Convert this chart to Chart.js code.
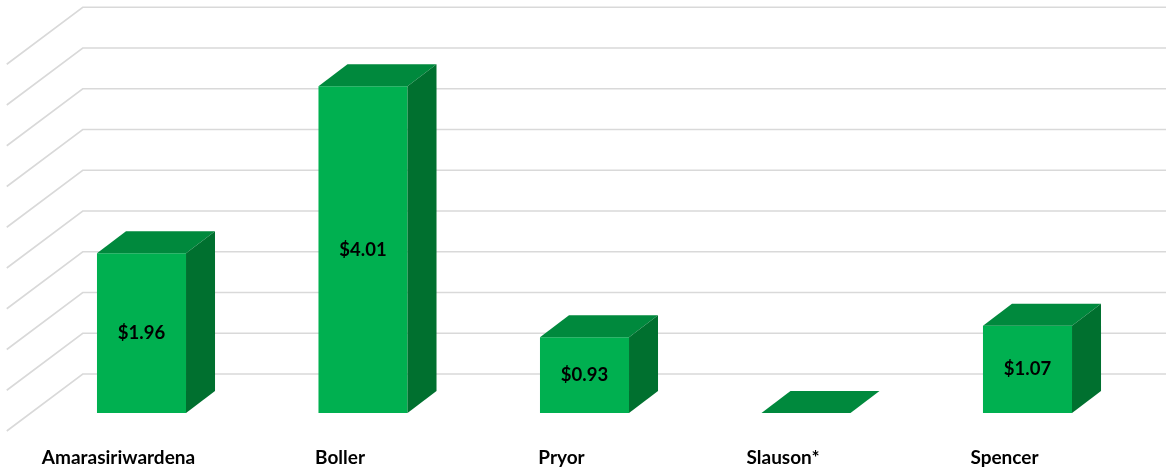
<!DOCTYPE html>
<html>
<head>
<meta charset="utf-8">
<script src="https://cdn.jsdelivr.net/npm/chart.js@4/dist/chart.umd.min.js"></script>
<style>
  html, body { margin: 0; padding: 0; background: #ffffff; }
  #wrap { width: 1166px; height: 468px; }
</style>
</head>
<body>
<div id="wrap"><canvas id="c" width="1166" height="468"></canvas></div>
<script>
// ---- data ----
const categories = ['Amarasiriwardena', 'Boller', 'Pryor', 'Slauson*', 'Spencer'];
const values = [1.96, 4.01, 0.93, 0, 1.07];
const valueLabels = ['$1.96', '$4.01', '$0.93', '', '$1.07'];
const axisMin = 0;
const axisMax = 5;
const gridStep = 0.5;
const gridTop = 4.5;

// ---- 3D look (styles only) ----
const FRONT = '#00B050';
const TOP = '#00893D';
const SIDE = '#00702F';
const GRID = '#D9D9D9';
const BAR_DX = 29, BAR_DY = 22;       // bar depth
const WALL_DX = 52, WALL_DY = 39;     // back wall offset from bar front
const SIDE_FRONT_DX = 24, SIDE_FRONT_DY = 18; // side wall extends in front of bars

const walls3d = {
  id: 'walls3d',
  beforeDatasetsDraw(chart) {
    const ctx = chart.ctx;
    const y = chart.scales.y;
    const area = chart.chartArea;
    let ticks = y.ticks.map(t => t.value);
    if (!ticks.length) { ticks = []; for (let v = axisMin; v <= axisMax + 1e-9; v += gridStep) ticks.push(v); }
    ctx.save();
    ctx.strokeStyle = GRID;
    ctx.lineWidth = 1.6;
    ticks.filter(v => v <= gridTop + 1e-9).forEach(v => {
      const yf = y.getPixelForValue(v);
      ctx.beginPath();
      ctx.moveTo(area.left - SIDE_FRONT_DX, yf + SIDE_FRONT_DY);
      ctx.lineTo(area.left + WALL_DX, yf - WALL_DY);
      ctx.lineTo(chart.width, yf - WALL_DY);
      ctx.stroke();
    });
    ctx.restore();
  },
  afterDatasetsDraw(chart) {
    const ctx = chart.ctx;
    const meta = chart.getDatasetMeta(0);
    ctx.save();
    meta.data.forEach((bar, i) => {
      const p = bar.getProps(['x', 'y', 'base', 'width'], true);
      const l = p.x - p.width / 2, r = p.x + p.width / 2;
      const top = Math.min(p.y, p.base), bot = Math.max(p.y, p.base);
      // top face
      ctx.fillStyle = TOP;
      ctx.beginPath();
      ctx.moveTo(l, top);
      ctx.lineTo(l + BAR_DX, top - BAR_DY);
      ctx.lineTo(r + BAR_DX, top - BAR_DY);
      ctx.lineTo(r, top);
      ctx.closePath();
      ctx.fill();
      // side face
      if (bot - top > 0.5) {
        ctx.fillStyle = SIDE;
        ctx.beginPath();
        ctx.moveTo(r, top);
        ctx.lineTo(r + BAR_DX, top - BAR_DY);
        ctx.lineTo(r + BAR_DX, bot - BAR_DY);
        ctx.lineTo(r, bot);
        ctx.closePath();
        ctx.fill();
      }
      // value label
      if (valueLabels[i]) {
        ctx.fillStyle = '#000000';
        ctx.font = 'bold 18.5px Lato, "Open Sans", sans-serif';
        ctx.textAlign = 'center';
        ctx.textBaseline = 'middle';
        ctx.fillText(valueLabels[i], p.x, (top + bot) / 2);
      }
    });
    ctx.restore();
  }
};

new Chart(document.getElementById('c'), {
  type: 'bar',
  data: {
    labels: categories,
    datasets: [{
      data: values,
      backgroundColor: FRONT,
      borderWidth: 0,
      categoryPercentage: 1.0,
      barPercentage: 0.402
    }]
  },
  options: {
    responsive: false,
    animation: false,
    devicePixelRatio: 1,
    layout: { padding: { left: 30.75, right: 27.75, top: 5.5, bottom: 0 } },
    plugins: { legend: { display: false }, tooltip: { enabled: false } },
    scales: {
      x: {
        grid: { display: false },
        border: { display: false },
        afterFit(scale) { scale.height = 55; },
        ticks: {
          color: '#000000',
          font: { family: 'Lato, "Open Sans", sans-serif', weight: 'bold', size: 19 },
          padding: 25,
          labelOffset: -23,
          maxRotation: 0,
          autoSkip: false
        }
      },
      y: {
        display: false,
        min: axisMin,
        max: axisMax,
        ticks: { stepSize: gridStep }
      }
    }
  },
  plugins: [walls3d]
});
</script>
</body>
</html>
